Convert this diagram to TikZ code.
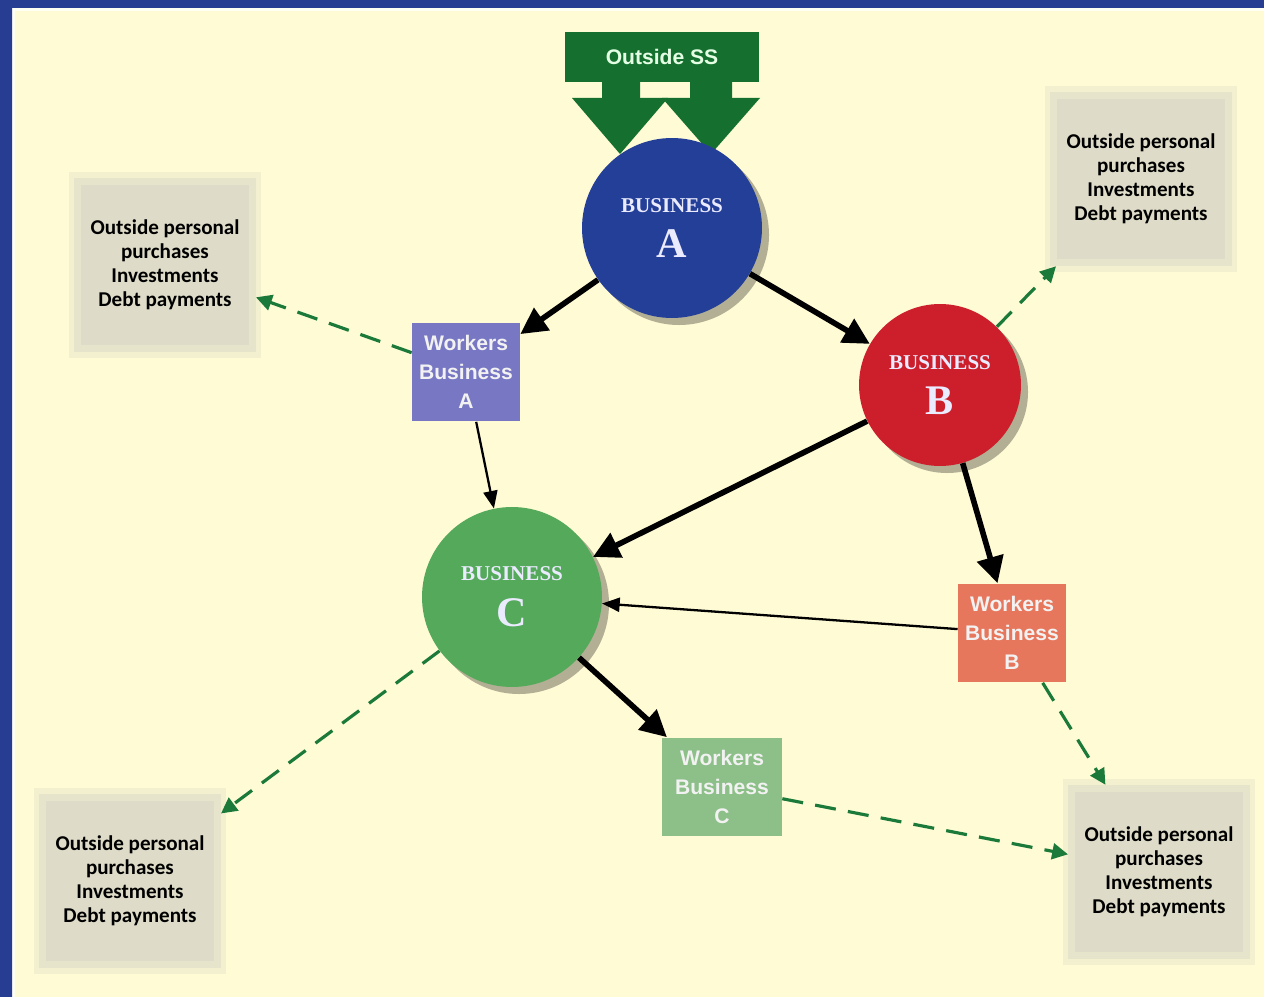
\documentclass[tikz,border=0pt]{standalone}
\usepackage{fontspec}
\usepackage{pgf,tikz}
\usetikzlibrary{arrows.meta,shadows}
\newfontfamily\boxfont{Carlito}
\newfontfamily\workfont{Liberation Sans}
\newfontfamily\busfont{Liberation Serif}
\definecolor{cream}{HTML}{FFFBD5}
\definecolor{frameblue}{HTML}{263D92}
\definecolor{outgreen}{HTML}{15702F}
\definecolor{busblue}{HTML}{243F98}
\definecolor{busred}{HTML}{CC1F2B}
\definecolor{busgreen}{HTML}{54A95A}
\definecolor{wrkblue}{HTML}{7777C3}
\definecolor{wrkred}{HTML}{E7775C}
\definecolor{wrkgreen}{HTML}{8DBF88}
\definecolor{boxgray}{HTML}{DEDCC8}
\definecolor{dashgreen}{HTML}{1B7A3A}
\tikzstyle{business}=[circle,minimum size=3.6cm,inner sep=0pt,text=white!92!blue,align=center,
  font=\busfont\bfseries,drop shadow={shadow xshift=4pt,shadow yshift=-4pt,opacity=.3,fill=black}]
\tikzstyle{workers}=[rectangle,minimum width=2.16cm,minimum height=1.98cm,inner sep=0pt,
  text=white!95!black,align=center,font=\workfont\bfseries\fontsize{12}{16.5}\selectfont]
\tikzstyle{spending}=[rectangle,fill=boxgray,draw=boxgray!75!cream,line width=4pt,
  preaction={draw=boxgray!35!cream,line width=10pt},
  minimum width=3.5cm,minimum height=3.35cm,align=center,font=\boxfont\bfseries\fontsize{12}{13.7}\selectfont]
\tikzstyle{outbar}=[rectangle,fill=outgreen,minimum width=3.9cm,minimum height=1cm,
  text=green!10!white,font=\workfont\bfseries\fontsize{12}{14}\selectfont]
\tikzstyle{flow}=[draw,line width=3.2pt,-{Triangle[length=15pt,width=15pt]}]
\tikzstyle{pay}=[draw,line width=1.3pt,-{Triangle[length=10pt,width=8pt]}]
\tikzstyle{spend}=[draw,dashgreen,line width=1.8pt,dash pattern=on 12pt off 7pt,-{Triangle[length=9pt,width=9pt]}]
\newcommand{\spendtext}{Outside personal\\purchases\\Investments\\Debt payments}

\begin{document}
\begin{tikzpicture}[x=0.02cm,y=-0.02cm]
    % frame
    \fill[cream] (0,0) rectangle (1264,997);
    \useasboundingbox (0,0) rectangle (1264,997);
    \fill[white!70!cream] (0,0) rectangle (15,997) (0,0) rectangle (1264,11);
    \fill[frameblue] (0,0) rectangle (12,997) (0,0) rectangle (1264,8);
    % outside money
    \node[outbar] (outside) at (662,57) {Outside SS};
    \fill[outgreen] (602,80) rectangle (640,99) (690,80) rectangle (732,99);
    \fill[outgreen] (572,98) -- (668,98) -- (620,154) -- cycle;
    \fill[outgreen] (662,98) -- (760,98) -- (711,154) -- cycle;
    % businesses
    \foreach \pos/\name/\col/\letter/\size in {{(672,228)/busA/busblue/A/3.6cm}, {(940,385)/busB/busred/B/3.24cm}, {(512,597)/busC/busgreen/C/3.6cm}}
        \node[business,fill=\col,minimum size=\size] (\name) at \pos
            {{\fontsize{12}{14}\selectfont BUSINESS}\\[9pt]{\fontsize{24}{24}\selectfont \letter}};
    % workers
    \foreach \pos/\name/\col/\letter/\boxwd in {{(466,372)/wrkA/wrkblue/A/2.16cm}, {(1012,633)/wrkB/wrkred/B/2.16cm}, {(722,787)/wrkC/wrkgreen/C/2.4cm}}
        \node[workers,fill=\col,minimum width=\boxwd] (\name) at \pos {Workers\\Business\\\letter};
    % spending
    \foreach \pos/\name in {{(165,265)/spendTL}, {(1141,179)/spendTR}, {(130,881)/spendBL}, {(1159,872)/spendBR}}
        \node[spending] (\name) at \pos {\spendtext};
    % money flows
    \foreach \source/\dest in {busA/wrkA, busA/busB, busB/busC, busB/wrkB, busC/wrkC}
        \path[flow] (\source) -- (\dest);
    \foreach \source/\dest in {wrkA/busC, wrkB/busC}
        \path[pay] (\source) -- (\dest);
    \foreach \source/\dest in {wrkA/spendTL, busB/spendTR, busC/spendBL, wrkB/spendBR, wrkC/spendBR}
        \path[spend] (\source) -- (\dest);
\end{tikzpicture}
\end{document}
